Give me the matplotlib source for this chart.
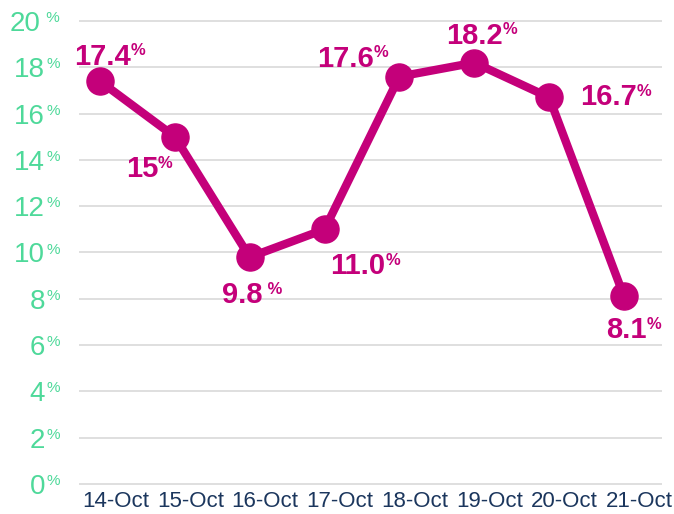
import matplotlib
matplotlib.use("Agg")
import matplotlib.pyplot as plt
from matplotlib.transforms import ScaledTranslation

# ---- data ----
dates = ["14-Oct", "15-Oct", "16-Oct", "17-Oct", "18-Oct", "19-Oct", "20-Oct", "21-Oct"]
values = [17.4, 15.0, 9.8, 11.0, 17.6, 18.2, 16.7, 8.1]
value_labels = ["17.4%", "15%", "9.8 %", "11.0%", "17.6%", "18.2%", "16.7%", "8.1%"]
y_ticks = [0, 2, 4, 6, 8, 10, 12, 14, 16, 18, 20]
y_tick_labels = ["0%", "2%", "4%", "6%", "8%", "10%", "12%", "14%", "16%", "18%", "20 %"]

# ---- styles ----
MAGENTA = "#C4007A"
GREEN = "#4ED99A"
NAVY = "#1B365D"
GRID = "#D9D9D9"
# label offsets (pixels: dx right, dy down) relative to each point
label_offsets_px = [(2.5, -27.5), (-33, 29.5), (-7, 35), (33.5, 33.5),
                    (-54, -21), (0, -30), (59, -3.5), (2.5, 31)]

plt.rcParams['font.family'] = ['Liberation Sans', 'DejaVu Sans']

W, H = 674, 514
fig = plt.figure(figsize=(W / 100, H / 100), dpi=100)
ax = fig.add_axes([79 / W, 30 / H, 583 / W, 463 / H])

x = list(range(len(dates)))
ax.set_xlim(-0.28, 7.507)
ax.set_ylim(0, 20)

# gridlines
ax.hlines(y_ticks, 0, 1, transform=ax.get_yaxis_transform(), colors=GRID,
          linewidth=1.2, clip_on=False, zorder=1)

ax.plot(x, values, color=MAGENTA, lw=6.0, marker='o', ms=19.5,
        solid_capstyle='round', solid_joinstyle='round', zorder=3, clip_on=False)

for s in ax.spines.values():
    s.set_visible(False)

# x tick labels
ax.set_xticks(x)
ax.set_xticklabels(dates, fontsize=16, color=NAVY)
ax.tick_params(axis='x', length=0, pad=5)
shift = ScaledTranslation(15.5 / 100, 0, fig.dpi_scale_trans)
for lab in ax.get_xticklabels():
    lab.set_transform(lab.get_transform() + shift)

# y tick labels (custom: number + small raised %)
ax.set_yticks([])
for yv, s in zip(y_ticks, y_tick_labels):
    num = s.rstrip('% ')
    suf = s[len(num):]
    pt = ax.annotate(suf, xy=(0, yv), xycoords=ax.get_yaxis_transform(),
                     xytext=(-19 * 0.72, 10 * 0.72), textcoords='offset points',
                     ha='right', va='top', fontsize=11, color=GREEN)
    ax.annotate(num, xy=(0, yv), xycoords=(pt, 'data'),
                xytext=(-1, 0), textcoords='offset points',
                ha='right', va='center_baseline', fontsize=20, color=GREEN)

# data labels
for xi, yi, s, (dx, dy) in zip(x, values, value_labels, label_offsets_px):
    num = s.rstrip('% ')
    suf = s[len(num):]
    t = ax.annotate(num, xy=(xi, yi), xytext=(dx * 0.72, -dy * 0.72),
                    textcoords='offset points', ha='center', va='center_baseline',
                    fontsize=21, fontweight='bold', color=MAGENTA, zorder=4)
    ax.annotate(suf, xy=(1, 1), xycoords=t, xytext=(0, -0.5),
                textcoords='offset points', ha='left', va='top',
                fontsize=12, fontweight='bold', color=MAGENTA, zorder=4)

fig.savefig("out.png", dpi=100)
